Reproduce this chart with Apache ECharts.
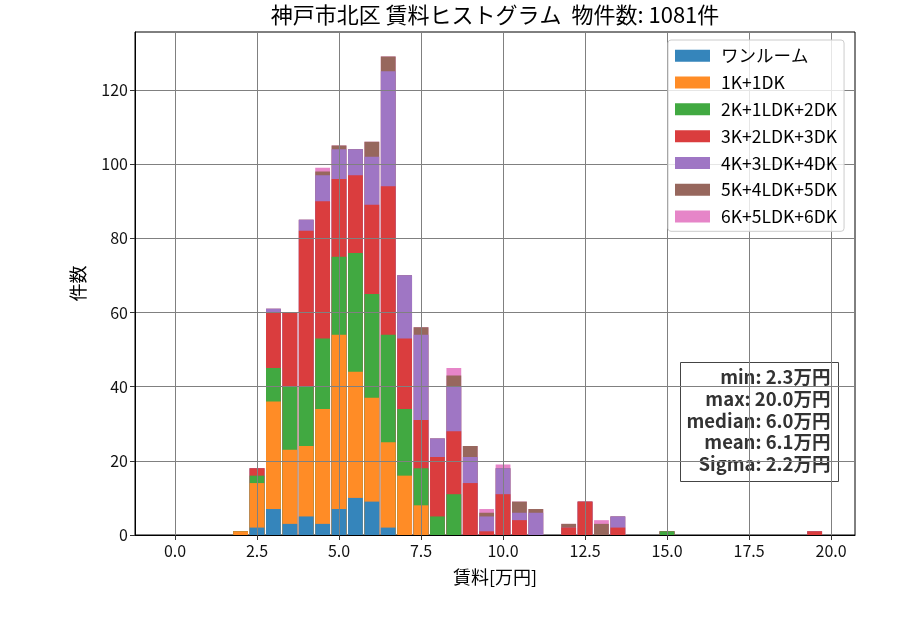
<!DOCTYPE html>
<html>
<head>
<meta charset="utf-8">
<title>神戸市北区 賃料ヒストグラム</title>
<script src="https://cdn.jsdelivr.net/npm/echarts@6/dist/echarts.min.js"></script>
<style>
  html, body { margin: 0; padding: 0; background: #fff; }
  #chart { width: 900px; height: 630px; }
</style>
</head>
<body>
<div id="chart"></div>
<script>
// bin centres (万円) and counts per layout type
var bins = [2.0, 2.5, 3.0, 3.5, 4.0, 4.5, 5.0, 5.5, 6.0, 6.5, 7.0, 7.5, 8.0, 8.5, 9.0, 9.5, 10.0, 10.5, 11.0, 12.0, 12.5, 13.0, 13.5, 15.0, 19.5];
var layouts = ['ワンルーム', '1K+1DK', '2K+1LDK+2DK', '3K+2LDK+3DK', '4K+3LDK+4DK', '5K+4LDK+5DK', '6K+5LDK+6DK'];
var oneRoom = [0, 2, 7, 3, 5, 3, 7, 10, 9, 2, 0, 0, 0, 0, 0, 0, 0, 0, 0, 0, 0, 0, 0, 0, 0];
var k1 = [1, 12, 29, 20, 19, 31, 47, 34, 28, 23, 16, 8, 0, 0, 0, 0, 0, 0, 0, 0, 0, 0, 0, 0, 0];
var k2 = [0, 2, 9, 17, 16, 19, 21, 32, 28, 29, 18, 10, 5, 11, 0, 0, 0, 0, 0, 0, 0, 0, 0, 1, 0];
var k3 = [0, 2, 15, 20, 42, 37, 21, 21, 24, 40, 19, 13, 16, 17, 14, 1, 11, 4, 0, 2, 9, 0, 2, 0, 1];
var k4 = [0, 0, 1, 0, 3, 7, 8, 7, 13, 31, 17, 23, 5, 12, 7, 4, 7, 2, 6, 0, 0, 0, 3, 0, 0];
var k5 = [0, 0, 0, 0, 0, 1, 1, 0, 4, 4, 0, 2, 0, 3, 3, 1, 0, 3, 1, 1, 0, 3, 0, 0, 0];
var k6 = [0, 0, 0, 0, 0, 1, 0, 0, 0, 0, 0, 0, 0, 2, 0, 1, 1, 0, 0, 0, 0, 1, 0, 0, 0];
var xTicks = [0, 2.5, 5, 7.5, 10, 12.5, 15, 17.5, 20];
var yTicks = [0, 20, 40, 60, 80, 100, 120];
var statsLines = ['min: 2.3万円', 'max: 20.0万円', 'median: 6.0万円', 'mean: 6.1万円', 'Sigma: 2.2万円'];

// tab10 at alpha 0.9 over white
var colors = ['#3585bb', '#ff8c26', '#41a941', '#da3d3e', '#9f76c4', '#97675d', '#e685c8'];
var counts = [oneRoom, k1, k2, k3, k4, k5, k6];
var font = '"Noto Sans CJK JP", "Noto Sans", sans-serif';

// stack by hand: each series shows the running total, drawn top layer first
var series = [];
for (var i = layouts.length - 1; i >= 0; i--) {
  (function (i) {
    series.push({
      name: layouts[i],
      type: 'bar',
      barWidth: 14.8,
      barGap: '-100%',
      z: 2,
      itemStyle: { color: colors[i] },
      data: bins.map(function (b, j) {
        var s = 0;
        for (var k = 0; k <= i; k++) s += counts[k][j];
        return [b, s];
      })
    });
  })(i);
}

// grid lines sit above the bars, as in the original
series.push({
  name: 'grid',
  type: 'line',
  data: [],
  z: 5,
  silent: true,
  markLine: {
    silent: true,
    symbol: 'none',
    label: { show: false },
    lineStyle: { color: '#808080', width: 1, type: 'solid' },
    data: xTicks.map(function (v) { return { xAxis: v }; })
      .concat(yTicks.map(function (v) { return { yAxis: v }; }))
  }
});

var chart = echarts.init(document.getElementById('chart'));
chart.setOption({
  animation: false,
  textStyle: { fontFamily: font },
  grid: { left: 135, right: 45, top: 32, bottom: 95, show: true, borderColor: '#000', borderWidth: 1 },
  legend: {
    orient: 'vertical', left: 668, top: 40, z: 10,
    data: layouts,
    icon: 'rect', itemWidth: 35, itemHeight: 12, itemGap: 9.3,
    padding: [7, 7, 6, 7],
    backgroundColor: 'rgba(255,255,255,0.8)', borderColor: '#ccc', borderWidth: 1, borderRadius: 3,
    textStyle: { fontFamily: font, fontSize: 17.5, color: '#000', lineHeight: 17.5, padding: [0, 0, 0, 6] }
  },
  xAxis: {
    type: 'value', min: -1.22, max: 20.73, z: 6,
    name: '賃料[万円]', nameLocation: 'middle', nameGap: 33,
    nameTextStyle: { fontFamily: font, fontSize: 18, color: '#000' },
    axisLine: { show: true, onZero: false, lineStyle: { color: '#000', width: 1 } },
    axisTick: { show: true, length: 5, customValues: xTicks, lineStyle: { color: '#333' } },
    axisLabel: { customValues: xTicks, fontSize: 16, color: '#111', margin: 8,
      formatter: function (v) { return v.toFixed(1); } },
    splitLine: { show: false }
  },
  yAxis: {
    type: 'value', min: 0, max: 135.6, z: 6,
    name: '件数', nameLocation: 'middle', nameGap: 48,
    nameTextStyle: { fontFamily: font, fontSize: 18, color: '#000' },
    axisLine: { show: true, onZero: false, lineStyle: { color: '#000', width: 1 } },
    axisTick: { show: true, length: 5, customValues: yTicks, lineStyle: { color: '#333' } },
    axisLabel: { customValues: yTicks, fontSize: 16, color: '#111', margin: 7 },
    splitLine: { show: false }
  },
  graphic: [{
    type: 'text', x: 495, y: 4, z: 10,
    style: {
      text: '神戸市北区 賃料ヒストグラム  物件数: 1081件', align: 'center', verticalAlign: 'top',
      font: '22px ' + font, fill: '#000'
    }
  }, {
    type: 'group', left: 680, top: 362, z: 10,
    children: [{
      type: 'rect', shape: { x: 0, y: 0, width: 158, height: 119 },
      style: { fill: 'rgba(255,255,255,0.9)', stroke: '#444', lineWidth: 1 }
    }, {
      type: 'text', x: 150, y: 4,
      style: {
        text: statsLines.join('\n'), align: 'right', verticalAlign: 'top',
        font: 'bold 18.5px ' + font, lineHeight: 21.7, fill: '#333'
      }
    }]
  }],
  series: series
});
</script>
</body>
</html>
